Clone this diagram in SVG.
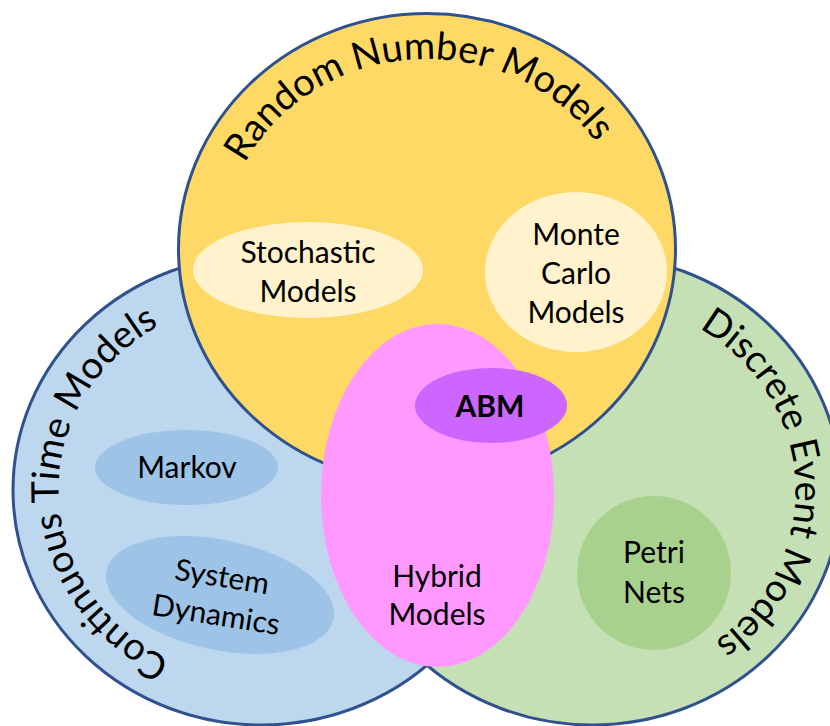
<svg xmlns="http://www.w3.org/2000/svg" width="830" height="726" viewBox="0 0 830 726">
  <style>
    .set { stroke: #2F528F; stroke-width: 3; }
    .title { font-family: Lato, "Liberation Sans", sans-serif; font-size: 38px; fill: #000; }
    .lbl { font-family: Lato, "Liberation Sans", sans-serif; font-size: 30px; fill: #000; text-anchor: middle; }
    .bold { font-weight: bold; }
  </style>
  <defs>
    <!-- baselines for the curved set titles, inset inside each set outline -->
    <path id="arcRandom" d="M 223 249 A 204 190 0 0 1 631 249"/>
    <path id="arcContinuous" d="M 261.5 680 A 203 190 0 0 1 261.5 300"/>
    <path id="arcDiscrete" d="M 592.5 300 A 203 190 0 0 1 592.5 680"/>
  </defs>

  <rect width="830" height="726" fill="#FFFFFF"/>

  <!-- three overlapping sets -->
  <g id="continuous-time">
    <ellipse class="set" cx="261.5" cy="490" rx="248.5" ry="235" fill="#BDD7EE"/>
  </g>
  <g id="discrete-event">
    <ellipse class="set" cx="592.5" cy="490" rx="248.5" ry="235" fill="#C5E0B4"/>
  </g>
  <g id="random-number">
    <ellipse class="set" cx="427" cy="249" rx="248.5" ry="235.5" fill="#FFD966"/>
  </g>

  <!-- set titles -->
  <text class="title"><textPath href="#arcRandom" startOffset="48%" text-anchor="middle">Random Number Models</textPath></text>
  <text class="title"><textPath href="#arcContinuous" startOffset="49%" text-anchor="middle">Continuous Time Models</textPath></text>
  <text class="title"><textPath href="#arcDiscrete" startOffset="48.5%" text-anchor="middle">Discrete Event Models</textPath></text>

  <!-- members -->
  <g id="stochastic">
    <ellipse cx="308" cy="270" rx="115" ry="48" fill="#FFF2CC"/>
    <text class="lbl" x="308" y="263">Stochastic</text>
    <text class="lbl" x="308" y="302">Models</text>
  </g>
  <g id="monte-carlo">
    <ellipse cx="576" cy="272" rx="91" ry="80" fill="#FFF2CC"/>
    <text class="lbl" x="576" y="245">Monte</text>
    <text class="lbl" x="576" y="284">Carlo</text>
    <text class="lbl" x="576" y="323">Models</text>
  </g>
  <g id="markov">
    <ellipse cx="186.5" cy="467.5" rx="91.5" ry="37.5" fill="#9DC3E6"/>
    <text class="lbl" x="187" y="478">Markov</text>
  </g>
  <g id="system-dynamics">
    <ellipse cx="220" cy="595" rx="116" ry="55" fill="#9DC3E6" transform="rotate(12 220 595)"/>
    <text class="lbl" x="222" y="587" transform="rotate(9 222 577)">System</text>
    <text class="lbl" x="216" y="625" transform="rotate(9 216 615)">Dynamics</text>
  </g>
  <g id="petri-nets">
    <circle cx="654" cy="573" r="77" fill="#A9D18E"/>
    <text class="lbl" x="654" y="563">Petri</text>
    <text class="lbl" x="654" y="603">Nets</text>
  </g>
  <g id="hybrid">
    <ellipse cx="437.5" cy="495.5" rx="116.5" ry="171.5" fill="#FF99FF"/>
    <text class="lbl" x="437" y="587">Hybrid</text>
    <text class="lbl" x="437" y="625">Models</text>
  </g>
  <g id="abm">
    <ellipse cx="491" cy="405.5" rx="76" ry="37.5" fill="#CC66FF"/>
    <text class="lbl bold" x="490" y="417">ABM</text>
  </g>
</svg>
